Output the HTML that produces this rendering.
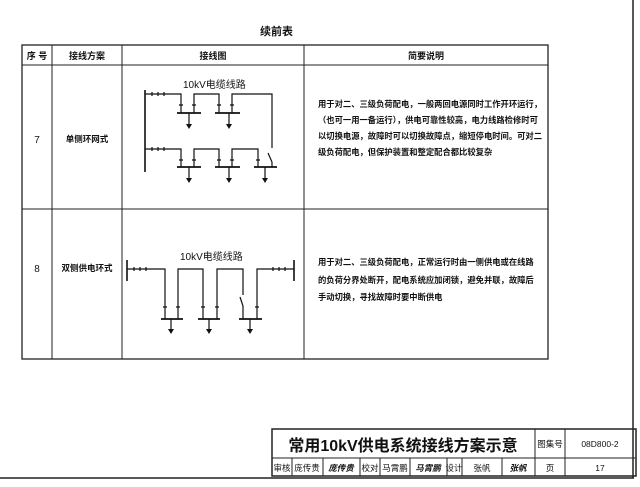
<!DOCTYPE html>
<html><head><meta charset="utf-8"><style>
body{margin:0;background:#fff;}
svg text{font-family:"Liberation Sans","Noto Sans CJK SC",sans-serif;fill:#111;}
</style></head><body>
<svg width="640" height="482" viewBox="0 0 640 482" xmlns="http://www.w3.org/2000/svg">
<rect width="640" height="482" fill="#fff"/>
<!-- outer frame -->
<line x1="633" y1="0" x2="633" y2="478" stroke="#222" stroke-width="1.5"/>
<line x1="0" y1="478" x2="634" y2="478" stroke="#222" stroke-width="1.5"/>
<text x="260" y="35" font-size="11" font-weight="bold">续前表</text>
<!-- table -->
<g stroke="#222" fill="none">
<rect x="22" y="45" width="526" height="314" stroke-width="1.3"/>
<line x1="22" y1="65" x2="548" y2="65"/>
<line x1="22" y1="209" x2="548" y2="209"/>
<line x1="52" y1="45" x2="52" y2="359"/>
<line x1="122" y1="45" x2="122" y2="359"/>
<line x1="304" y1="45" x2="304" y2="359"/>
</g>
<g font-size="9" font-weight="bold" text-anchor="middle">
<text x="37" y="59">序 号</text>
<text x="87" y="59">接线方案</text>
<text x="213" y="59">接线图</text>
<text x="426" y="59">简要说明</text>
</g>
<g font-size="10" text-anchor="middle">
<text x="37" y="143">7</text>
<text x="37" y="272">8</text>
</g>
<g font-size="8.5" font-weight="bold" text-anchor="middle">
<text x="87" y="142">单侧环网式</text>
<text x="87" y="271">双侧供电环式</text>
</g>
<g font-size="8.3" font-weight="bold">
<text x="318" y="107">用于对二、三级负荷配电，一般两回电源同时工作开环运行，</text>
<text x="318" y="123">（也可一用一备运行），供电可靠性较高，电力线路检修时可</text>
<text x="318" y="139">以切换电源，故障时可以切换故障点，缩短停电时间。可对二</text>
<text x="318" y="155">级负荷配电，但保护装置和整定配合都比较复杂</text>
<text x="318" y="265">用于对二、三级负荷配电，正常运行时由一侧供电或在线路</text>
<text x="318" y="283">的负荷分界处断开，配电系统应加闭锁，避免并联，故障后</text>
<text x="318" y="300">手动切换，寻找故障时要中断供电</text>
</g>
<!-- diagram 7 -->
<text x="183" y="88" font-size="10">10kV电缆线路</text>
<g stroke="#111" stroke-width="1.2" fill="none">
<line x1="145" y1="90" x2="145" y2="172" stroke-width="1.6"/>
<polyline points="145,94 181,94 181,113"/>
<polyline points="194,113 194,94 219,94 219,113"/>
<polyline points="232,113 232,94 272,94 272,148"/>
<line x1="177" y1="113" x2="201" y2="113" stroke-width="1.8"/>
<line x1="215" y1="113" x2="240" y2="113" stroke-width="1.8"/>
<line x1="189" y1="113" x2="189" y2="125"/>
<line x1="229" y1="113" x2="229" y2="125"/>
<polyline points="145,149 181,149 181,167"/>
<polyline points="194,167 194,149 219,149 219,167"/>
<polyline points="232,167 232,149 258,149 258,167"/>
<line x1="268" y1="153" x2="272" y2="162"/>
<line x1="272" y1="162" x2="272" y2="167"/>
<line x1="177" y1="167" x2="201" y2="167" stroke-width="1.8"/>
<line x1="215" y1="167" x2="240" y2="167" stroke-width="1.8"/>
<line x1="254" y1="167" x2="277" y2="167" stroke-width="1.8"/>
<line x1="189" y1="167" x2="189" y2="179"/>
<line x1="229" y1="167" x2="229" y2="179"/>
<line x1="265" y1="167" x2="265" y2="179"/>
<path d="M152,92v4M158,92v4M164,92v4M152,147v4M158,147v4M164,147v4M179,105h4M192,105h4M217,105h4M230,105h4M179,160h4M192,160h4M217,160h4M230,160h4M256,160h4"/>
</g>
<g fill="#111">
<path d="M186,124h6l-3,5z M226,124h6l-3,5z M186,178h6l-3,5z M226,178h6l-3,5z M262,178h6l-3,5z"/>
</g>
<!-- diagram 8 -->
<text x="180" y="260" font-size="10">10kV电缆线路</text>
<g stroke="#111" stroke-width="1.2" fill="none">
<line x1="127" y1="260" x2="127" y2="281" stroke-width="1.6"/>
<line x1="294" y1="260" x2="294" y2="281" stroke-width="1.6"/>
<polyline points="127,269 165,269 165,319"/>
<polyline points="178,319 178,269 203,269 203,319"/>
<polyline points="217,319 217,269 243,269 243,295"/>
<line x1="240" y1="297" x2="243" y2="306"/>
<line x1="243" y1="306" x2="243" y2="319"/>
<polyline points="257,319 257,269 294,269"/>
<line x1="161" y1="319" x2="183" y2="319" stroke-width="1.8"/>
<line x1="198" y1="319" x2="220" y2="319" stroke-width="1.8"/>
<line x1="239" y1="319" x2="262" y2="319" stroke-width="1.8"/>
<line x1="171" y1="319" x2="171" y2="330"/>
<line x1="209" y1="319" x2="209" y2="330"/>
<line x1="250" y1="319" x2="250" y2="330"/>
<path d="M134,267v4M140,267v4M146,267v4M273,267v4M279,267v4M285,267v4M163,307h4M176,307h4M201,307h4M215,307h4M255,307h4"/>
</g>
<g fill="#111">
<path d="M168,329h6l-3,5z M206,329h6l-3,5z M247,329h6l-3,5z"/>
</g>
<!-- title block -->
<g stroke="#222" fill="none">
<rect x="272" y="429" width="364" height="47" stroke-width="1.5"/>
<line x1="272" y1="458" x2="636" y2="458"/>
<line x1="535" y1="429" x2="535" y2="476"/>
<line x1="565" y1="429" x2="565" y2="476"/>
<line x1="292" y1="458" x2="292" y2="476"/>
<line x1="323" y1="458" x2="323" y2="476"/>
<line x1="360" y1="458" x2="360" y2="476"/>
<line x1="380" y1="458" x2="380" y2="476"/>
<line x1="410" y1="458" x2="410" y2="476"/>
<line x1="447" y1="458" x2="447" y2="476"/>
<line x1="462" y1="458" x2="462" y2="476"/>
<line x1="502" y1="458" x2="502" y2="476"/>
</g>
<text x="403" y="451" font-size="16" font-weight="bold" text-anchor="middle">常用10kV供电系统接线方案示意</text>
<g font-size="8.5" text-anchor="middle">
<text x="550" y="447">图集号</text>
<text x="600" y="447">08D800-2</text>
<text x="282" y="471">审核</text>
<text x="307" y="471">庞传贵</text>
<text x="341" y="471" font-style="italic" font-weight="bold">庞传贵</text>
<text x="370" y="471">校对</text>
<text x="395" y="471">马霄鹏</text>
<text x="428" y="471" font-style="italic" font-weight="bold">马霄鹏</text>
<text x="454" y="471">设计</text>
<text x="482" y="471">张帆</text>
<text x="518" y="471" font-style="italic" font-weight="bold">张帆</text>
<text x="550" y="471">页</text>
<text x="600" y="471">17</text>
</g>
</svg>
</body></html>
